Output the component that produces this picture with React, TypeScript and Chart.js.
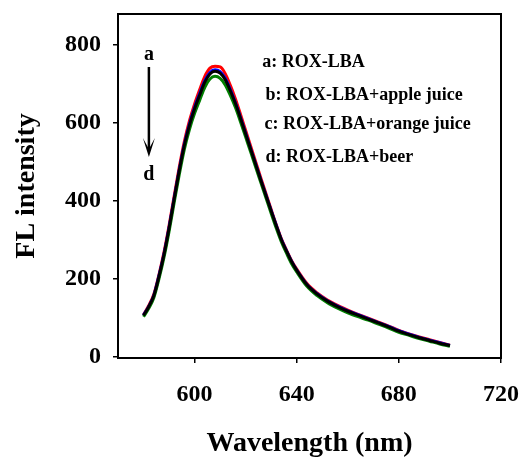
import { useEffect, useRef } from "react";
import { Chart, registerables } from "chart.js";

Chart.register(...registerables);

const wavelengths = [580, 582, 584, 586, 588, 590, 592, 594, 596, 598, 600, 602, 604, 606, 608, 610, 612, 614, 616, 618, 620, 622, 624, 626, 628, 630, 632, 634, 636, 638, 640, 644, 648, 652, 656, 660, 664, 668, 672, 676, 680, 684, 688, 692, 696, 700];

const seriesA = [108, 131, 160, 210, 268, 337, 413, 487, 553, 606, 649, 686, 720, 741, 746, 744, 727, 697, 662, 622, 581, 540, 499, 458, 418, 378, 339, 303, 274, 247, 225, 188, 164, 146, 132, 120, 109, 99, 89, 79, 68, 59, 51, 44, 37, 30];
const seriesB = [107, 129, 157, 207, 264, 332, 407, 480, 546, 598, 641, 676, 709, 730, 737, 732, 715, 686, 652, 614, 574, 533, 493, 453, 414, 375, 337, 301, 272, 245, 223, 186, 162, 144, 130, 118, 108, 98, 88, 78, 67, 58, 50, 43, 36, 29];
const seriesC = [106, 128, 156, 205, 262, 330, 405, 478, 543, 595, 637, 672, 705, 726, 733, 728, 711, 683, 650, 612, 572, 532, 492, 452, 413, 374, 336, 300, 271, 244, 222, 185, 161, 143, 129, 117, 107, 97, 87, 77, 66, 57, 49, 42, 35, 29];
const seriesD = [103, 124, 151, 199, 255, 322, 396, 468, 533, 584, 625, 659, 692, 713, 720, 715, 698, 671, 640, 603, 564, 525, 485, 446, 407, 368, 330, 295, 266, 239, 218, 181, 157, 139, 125, 113, 103, 94, 84, 74, 63, 55, 47, 40, 33, 27];

const seriesNames = ["a: ROX-LBA", "b: ROX-LBA+apple juice", "c: ROX-LBA+orange juice", "d: ROX-LBA+beer"];
const seriesColors = ["#ff0000", "#0000ff", "#000000", "#008000"];

const xTicks = [600, 640, 680, 720];
const yTicks = [0, 200, 400, 600, 800];

// annotation anchors in data units
const noteX = [626.5, 627.8, 627.4, 627.8];
const noteY = [757, 672, 597, 513];
const arrowX = 582.1;
const arrowTop = 744;
const arrowBottom = 513;
const arrowLabelTopY = 774;
const arrowLabelBottomY = 466;

const FONT = "'Liberation Serif', 'Times New Roman', serif";

const framePlugin = {
  id: "frameAndNotes",
  afterDraw(chart: any) {
    const { ctx, chartArea } = chart;
    const x = chart.scales.x;
    const y = chart.scales.y;
    ctx.save();
    ctx.strokeStyle = "#000";
    ctx.lineWidth = 2;
    ctx.strokeRect(chartArea.left, chartArea.top, chartArea.right - chartArea.left, chartArea.bottom - chartArea.top);

    ctx.fillStyle = "#000";
    ctx.font = `bold 18px ${FONT}`;
    ctx.textAlign = "left";
    ctx.textBaseline = "middle";
    seriesNames.forEach((t, i) => {
      ctx.fillText(t, x.getPixelForValue(noteX[i]), y.getPixelForValue(noteY[i]));
    });

    const ax = x.getPixelForValue(arrowX);
    const top = y.getPixelForValue(arrowTop);
    const bot = y.getPixelForValue(arrowBottom);
    ctx.font = `bold 20px ${FONT}`;
    ctx.textAlign = "center";
    ctx.fillText("a", ax, y.getPixelForValue(arrowLabelTopY));
    ctx.fillText("d", ax, y.getPixelForValue(arrowLabelBottomY));
    ctx.lineWidth = 2.5;
    ctx.beginPath();
    ctx.moveTo(ax, top);
    ctx.lineTo(ax, bot - 8);
    ctx.stroke();
    ctx.beginPath();
    ctx.moveTo(ax - 6, bot - 19);
    ctx.lineTo(ax, bot);
    ctx.lineTo(ax + 6, bot - 19);
    ctx.lineTo(ax, bot - 8);
    ctx.closePath();
    ctx.fill();
    ctx.restore();
  },
};

export default function App() {
  const ref = useRef<HTMLCanvasElement>(null);
  useEffect(() => {
    if (!ref.current) return;
    const all = [seriesA, seriesB, seriesC, seriesD];
    const orders = [3, 2, 0, 1];
    const chart = new Chart(ref.current, {
      type: "line",
      data: {
        datasets: all.map((s, i) => ({
          label: seriesNames[i],
          data: wavelengths.map((w, j) => ({ x: w, y: s[j] })),
          borderColor: seriesColors[i],
          backgroundColor: seriesColors[i],
          borderWidth: 3,
          pointRadius: 0,
          cubicInterpolationMode: "monotone" as const,
          fill: false,
          order: orders[i],
        })),
      },
      options: {
        animation: false,
        responsive: false,
        layout: { padding: { top: 14, right: 24, left: 0, bottom: 0 } },
        plugins: { legend: { display: false }, tooltip: { enabled: false } },
        scales: {
          x: {
            type: "linear",
            min: 570,
            max: 720,
            afterBuildTicks: (s: any) => {
              s.ticks = xTicks.map((v) => ({ value: v }));
            },
            afterFit: (s: any) => {
              s.height = 102;
              s.paddingLeft = 0;
              s.paddingRight = 0;
              s.paddingTop = 0;
              s.paddingBottom = 0;
            },
            grid: { drawOnChartArea: false, drawTicks: true, tickLength: 5, color: "#000", lineWidth: 1.5 },
            border: { display: true, color: "#000", width: 2 },
            ticks: {
              color: "#000",
              padding: 17,
              maxRotation: 0,
              font: { family: FONT, size: 24, weight: "bold" },
            },
            title: {
              display: true,
              text: "Wavelength (nm)",
              color: "#000",
              padding: { top: 0, bottom: -1 },
              font: { family: FONT, size: 28, weight: "bold" },
            },
          },
          y: {
            type: "linear",
            min: -3,
            max: 880,
            afterBuildTicks: (s: any) => {
              s.ticks = yTicks.map((v) => ({ value: v }));
            },
            afterFit: (s: any) => {
              s.width = 118;
              s.paddingLeft = 0;
              s.paddingRight = 0;
              s.paddingTop = 0;
              s.paddingBottom = 0;
            },
            grid: { drawOnChartArea: false, drawTicks: true, tickLength: 5, color: "#000", lineWidth: 1.5 },
            border: { display: true, color: "#000", width: 2 },
            ticks: {
              color: "#000",
              padding: 12,
              font: { family: FONT, size: 24, weight: "bold" },
            },
            title: {
              display: true,
              text: "FL intensity",
              color: "#000",
              padding: { top: 10, bottom: 0 },
              font: { family: FONT, size: 28, weight: "bold" },
            },
          },
        },
      },
      plugins: [framePlugin],
    });
    return () => chart.destroy();
  }, []);
  return (
    <div style={{ position: "fixed", left: 0, top: 0, width: 525, height: 460, background: "#fff" }}>
      <canvas ref={ref} width={525} height={460} style={{ display: "block" }} />
    </div>
  );
}
